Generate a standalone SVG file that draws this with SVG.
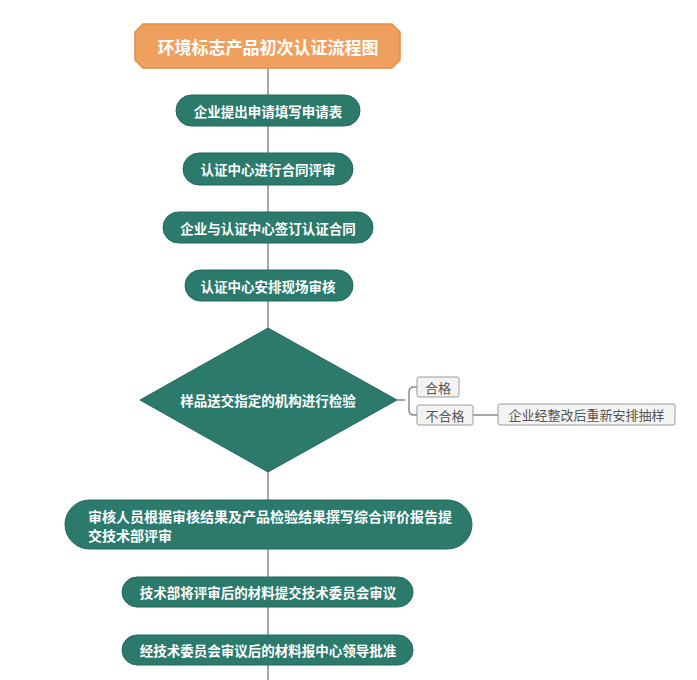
<svg xmlns="http://www.w3.org/2000/svg" width="697" height="680" viewBox="0 0 697 680">
<style>
.pill{fill:#2B7A6B;stroke:#24695C;stroke-width:1}
.pt{fill:#ffffff;font-family:"Noto Sans CJK SC","Noto Sans",sans-serif;font-weight:bold;font-size:13.5px;text-anchor:middle;dominant-baseline:central}
.box{fill:#F3F3F3;stroke:#9A9A9A;stroke-width:1}
.bt{fill:#555555;font-family:"Noto Sans CJK SC","Noto Sans",sans-serif;font-size:13px;text-anchor:middle;dominant-baseline:central}
.ln{stroke:#8A8A8A;stroke-width:1.5;fill:none}
</style>
<rect width="697" height="680" fill="#ffffff"/>
<g id="connectors">
<line class="ln" x1="268" y1="68" x2="268" y2="680"/>
<path class="ln" d="M397,400 H405"/>
<path class="ln" d="M417,387 H414 Q409,387 409,392 V410 Q409,415 414,415 H417"/>
<path class="ln" d="M473,415 H498"/>
</g>
<g id="title">
<polygon points="143,24 392,24 400,32 400,60 392,68 143,68 135,60 135,32" fill="#F0A05E" stroke="#E38D45" stroke-width="1.5"/>
<text x="268" y="46" class="pt" style="font-size:17px">环境标志产品初次认证流程图</text>
</g>
<g id="n1">
<rect class="pill" x="176" y="95" width="184" height="31" rx="15.5"/>
<text x="268" y="110.5" class="pt">企业提出申请填写申请表</text>
</g>
<g id="n2">
<rect class="pill" x="183" y="153" width="170" height="32" rx="16"/>
<text x="268" y="169" class="pt">认证中心进行合同评审</text>
</g>
<g id="n3">
<rect class="pill" x="163" y="212" width="210" height="31" rx="15.5"/>
<text x="268" y="227.5" class="pt">企业与认证中心签订认证合同</text>
</g>
<g id="n4">
<rect class="pill" x="185" y="270" width="168" height="31" rx="15.5"/>
<text x="268" y="285.5" class="pt">认证中心安排现场审核</text>
</g>
<g id="decision">
<polygon points="268,328 397,400 268,472 140,400" fill="#2B7A6B" stroke="#24695C" stroke-width="1"/>
<text x="268" y="400" class="pt">样品送交指定的机构进行检验</text>
</g>
<g id="pass">
<rect class="box" x="417" y="377" width="42" height="20" rx="2"/>
<text x="438" y="387" class="bt">合格</text>
</g>
<g id="fail">
<rect class="box" x="417" y="405" width="56" height="20" rx="2"/>
<text x="445" y="415" class="bt">不合格</text>
</g>
<g id="resample">
<rect class="box" x="498" y="404" width="177" height="21" rx="2"/>
<text x="586.5" y="414.5" class="bt">企业经整改后重新安排抽样</text>
</g>
<g id="n5">
<rect class="pill" x="65" y="500" width="407" height="49" rx="24.5"/>
<text x="88" y="516" class="pt" style="text-anchor:start;font-size:14px">审核人员根据审核结果及产品检验结果撰写综合评价报告提</text>
<text x="88" y="535" class="pt" style="text-anchor:start;font-size:14px">交技术部评审</text>
</g>
<g id="n6">
<rect class="pill" x="122" y="577" width="291" height="30" rx="15"/>
<text x="268" y="592" class="pt">技术部将评审后的材料提交技术委员会审议</text>
</g>
<g id="n7">
<rect class="pill" x="122" y="635" width="291" height="30" rx="15"/>
<text x="268" y="650" class="pt">经技术委员会审议后的材料报中心领导批准</text>
</g>
</svg>
